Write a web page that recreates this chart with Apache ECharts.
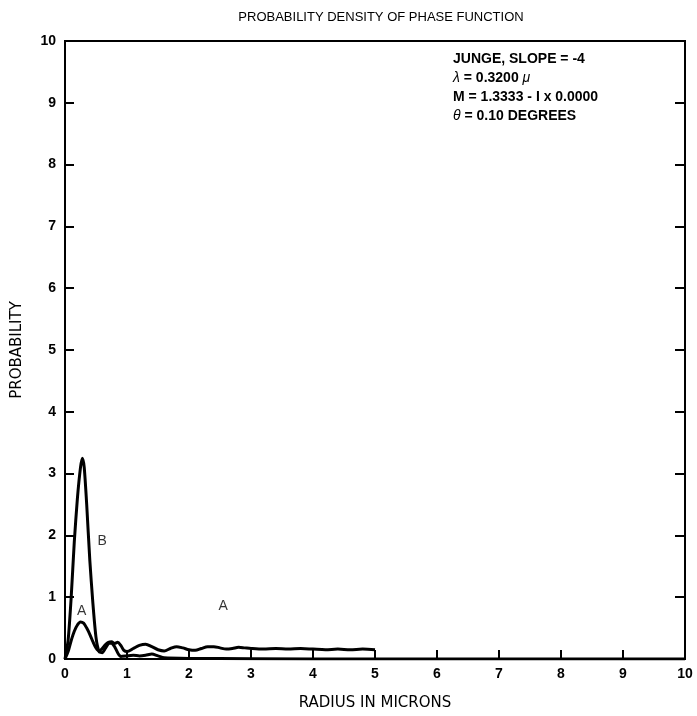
<!DOCTYPE html>
<html><head><meta charset="utf-8">
<script src="https://cdn.jsdelivr.net/npm/echarts@6/dist/echarts.min.js"></script>
<style>html,body{margin:0;padding:0;background:#fff}#c{width:697px;height:716px}</style>
</head><body><div id="c"></div>
<script>
const xTicks = [0,1,2,3,4,5,6,7,8,9,10];
const yTicks = [0,1,2,3,4,5,6,7,8,9,10];
const curveA_r = [0,0.05,0.1,0.15,0.2,0.25,0.3,0.35,0.4,0.45,0.5,0.55,0.6,0.65,0.7,0.75,0.8,0.85,0.9,0.95,1.0,1.1,1.2,1.3,1.4,1.5,1.6,1.7,1.8,1.9,2.0,2.1,2.2,2.3,2.4,2.5,2.6,2.7,2.8,2.9,3.0,3.2,3.4,3.6,3.8,4.0,4.2,4.4,4.6,4.8,5.0];
const curveA_p = [0,0.12,0.3,0.45,0.55,0.6,0.58,0.5,0.4,0.28,0.18,0.13,0.17,0.23,0.27,0.28,0.25,0.27,0.22,0.14,0.12,0.17,0.22,0.24,0.2,0.15,0.13,0.17,0.2,0.18,0.15,0.14,0.17,0.2,0.2,0.18,0.16,0.17,0.19,0.18,0.17,0.16,0.17,0.16,0.17,0.16,0.15,0.16,0.15,0.16,0.15];
const curveB_r = [0,0.05,0.1,0.15,0.2,0.25,0.28,0.31,0.35,0.4,0.45,0.5,0.55,0.6,0.65,0.7,0.75,0.8,0.85,0.9,1.0,1.1,1.2,1.3,1.4,1.5,1.6,2,3,5,10];
const curveB_p = [0,0.3,1.0,1.9,2.6,3.1,3.25,3.1,2.5,1.6,0.9,0.35,0.12,0.1,0.17,0.25,0.26,0.2,0.1,0.04,0.05,0.06,0.05,0.06,0.08,0.05,0.02,0.01,0.005,0,0];
const labelNames = ['A','B','A'];
const labelR = [0.27,0.6,2.55];
const labelP = [0.78,1.9,0.85];

const F = 'Liberation Sans, Arial, sans-serif';
const FW = 'DejaVu Sans, sans-serif';
const chart = echarts.init(document.getElementById('c'));
const zip = (a,b)=>a.map((v,i)=>[v,b[i]]);
chart.setOption({
  animation:false,
  backgroundColor:'#fff',
  title:{text:'PROBABILITY DENSITY OF PHASE FUNCTION',left:376,top:6,textAlign:'center',
    textStyle:{fontFamily:F,fontSize:13,fontWeight:'normal',color:'#000'}},
  grid:{left:65,right:12,top:41,bottom:57,show:true,borderColor:'#000',borderWidth:2},
  xAxis:[{type:'value',min:0,max:10,interval:1,
    name:'RADIUS IN MICRONS',nameLocation:'middle',nameGap:37,
    nameTextStyle:{fontFamily:FW,fontSize:15,color:'#000'},
    axisLine:{lineStyle:{color:'#000',width:2}},
    axisTick:{inside:true,length:9,lineStyle:{color:'#000',width:2}},
    axisLabel:{fontFamily:F,fontSize:14,fontWeight:'bold',color:'#000',margin:8,
      formatter:v=>xTicks.includes(v)?String(v):''},
    splitLine:{show:false}}],
  yAxis:[{type:'value',min:0,max:10,interval:1,position:'left',
    name:'PROBABILITY',nameLocation:'middle',nameGap:40,nameRotate:90,
    nameTextStyle:{fontFamily:FW,fontSize:15,color:'#000'},
    axisLine:{show:true,lineStyle:{color:'#000',width:2}},
    axisTick:{show:true,inside:true,length:9,lineStyle:{color:'#000',width:2}},
    axisLabel:{fontFamily:F,fontSize:14,fontWeight:'bold',color:'#000',margin:9,
      formatter:v=>yTicks.includes(v)?String(v):''},
    splitLine:{show:false}},
   {type:'value',min:0,max:10,interval:1,position:'right',
    axisLine:{show:true,lineStyle:{color:'#000',width:2}},
    axisTick:{show:true,inside:true,length:10,lineStyle:{color:'#000',width:2}},
    axisLabel:{show:false},splitLine:{show:false}}],
  series:[
    {type:'line',data:zip(curveA_r,curveA_p),showSymbol:false,smooth:0.3,
      lineStyle:{color:'#000',width:3}},
    {type:'line',data:zip(curveB_r,curveB_p),showSymbol:false,smooth:0.2,
      lineStyle:{color:'#000',width:3}},
    {type:'scatter',symbolSize:0,
      data:labelNames.map((n,i)=>({name:n,value:[labelR[i],labelP[i]]})),
      label:{show:true,position:'inside',formatter:'{b}',fontFamily:F,fontSize:14,color:'#000'}}
  ],
  graphic:[{type:'text',left:453,top:50,style:{
    text:'JUNGE, SLOPE = -4\n{i|λ} = 0.3200 {i|μ}\nM = 1.3333 - I x 0.0000\n{i|θ} = 0.10 DEGREES',
    font:'bold 14px '+F,fill:'#000',lineHeight:19,
    rich:{i:{fontStyle:'italic',font:'italic 14px '+F,fill:'#000'}}}}]
});
</script></body></html>
